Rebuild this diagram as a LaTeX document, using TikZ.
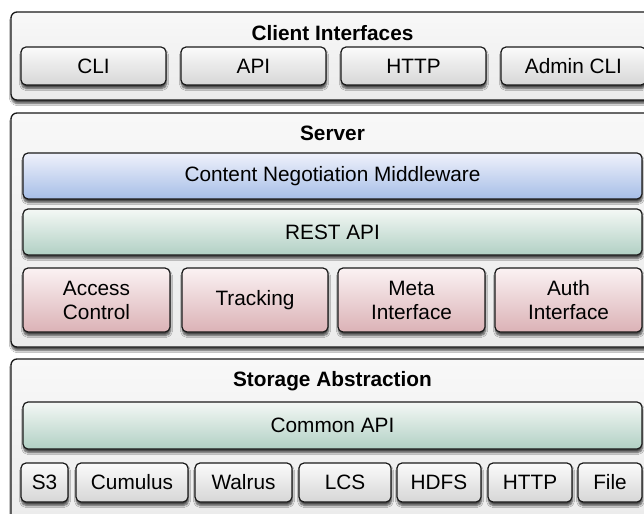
\documentclass[tikz,border=0pt]{standalone}
\usepackage{fontspec}
\setmainfont{Liberation Sans}
\usetikzlibrary{shadows.blur}

\definecolor{panelTop}{HTML}{F8F8F8}
\definecolor{panelBot}{HTML}{EBEBEB}
\definecolor{btnTop}{HTML}{FBFBFB}
\definecolor{btnBot}{HTML}{D6D6D6}
\definecolor{blueTop}{HTML}{EFF1FB}
\definecolor{blueBot}{HTML}{A6BEE7}
\definecolor{greenTop}{HTML}{F4F8F5}
\definecolor{greenBot}{HTML}{B1D0C4}
\definecolor{pinkTop}{HTML}{FBF2F3}
\definecolor{pinkBot}{HTML}{DBB2B6}
\definecolor{edge}{HTML}{1A1A1A}

\tikzset{
  x=1bp, y=-1bp,
  base/.style={draw=edge, inner sep=0pt, align=center,
    font=\fontsize{20.8bp}{24bp}\selectfont,
    blur shadow={shadow xshift=0.5bp, shadow yshift=-3.5bp,
      shadow blur steps=6, shadow opacity=70}},
  panel/.style={base, line width=1.3bp, rounded corners=6bp,
    top color=panelTop, bottom color=panelBot},
  btn/.style={base, line width=1.2bp, rounded corners=5bp,
    top color=btnTop, bottom color=btnBot},
  bluebar/.style={base, line width=1.2bp, rounded corners=5bp,
    top color=blueTop, bottom color=blueBot},
  greenbar/.style={base, line width=1.2bp, rounded corners=5bp,
    top color=greenTop, bottom color=greenBot},
  pinkbox/.style={base, line width=1.2bp, rounded corners=5bp,
    top color=pinkTop, bottom color=pinkBot},
  title/.style={inner sep=0pt, font=\fontsize{20.8bp}{24bp}\selectfont\bfseries},
  wh/.style 2 args={minimum width=#1bp, minimum height=#2bp},
}

\begin{document}
\begin{tikzpicture}
\useasboundingbox (0,0) rectangle (644,514);
\clip (0,0) rectangle (644,514);
\fill[white] (0,0) rectangle (644,514);

% Client layer
\node[panel, wh={643}{88}] (client) at (332.5,56) {};
\node[title] (clientT) at (332.5,33) {Client Interfaces};
\node[btn, wh={145}{38}] (cli)   at (93.5,66)  {CLI};
\node[btn, wh={145}{38}] (api)   at (253.5,66) {API};
\node[btn, wh={145}{38}] (http)  at (413.5,66) {HTTP};
\node[btn, wh={145}{38}] (admin) at (573.5,66) {Admin CLI};

% Server layer
\node[panel, wh={643}{234}] (server) at (332.5,230) {};
\node[title] (serverT) at (332.5,133) {Server};
\node[bluebar, wh={619}{46}] (cnm) at (332.5,176) {Content Negotiation Middleware};
\node[greenbar, wh={619}{46}] (rest) at (332.5,232) {REST API};
\node[pinkbox, wh={147}{64}] (acc)   at (96.5,300)  {Access\\Control};
\node[pinkbox, wh={146}{64}] (track) at (255,300)   {Tracking};
\node[pinkbox, wh={147}{64}] (meta)  at (411.5,300) {Meta\\Interface};
\node[pinkbox, wh={147}{64}] (auth)  at (568.5,300) {Auth\\Interface};

% Storage layer
\node[panel, wh={643}{171}] (storage) at (332.5,444.5) {};
\node[title] (storageT) at (332.5,381) {Storage Abstraction};
\node[greenbar, wh={619}{47}] (common) at (332.5,425.5) {Common API};
\node[btn, wh={47}{39}]  (s3)      at (44.5,482.5) {S3};
\node[btn, wh={112}{39}] (cumulus) at (132,482.5)  {Cumulus};
\node[btn, wh={97}{39}]  (walrus)  at (243.5,482.5) {Walrus};
\node[btn, wh={92}{39}]  (lcs)     at (345,482.5)  {LCS};
\node[btn, wh={84}{39}]  (hdfs)    at (439,482.5)  {HDFS};
\node[btn, wh={84}{39}]  (shttp)   at (530,482.5)  {HTTP};
\node[btn, wh={64}{39}]  (file)    at (610,482.5)  {File};
\end{tikzpicture}
\end{document}
